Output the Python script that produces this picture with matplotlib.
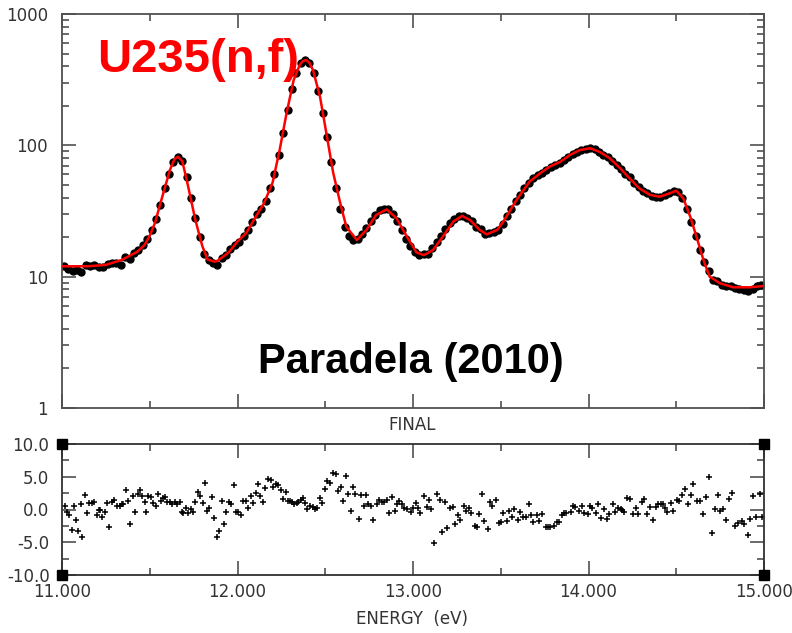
import matplotlib.pyplot as plt
from matplotlib.ticker import LogLocator, NullFormatter
import numpy as np

# fitted cross section (red curve)
fit_e = [11.00, 11.15, 11.25, 11.34, 11.43, 11.47, 11.50, 11.53, 11.57, 11.615,
         11.64, 11.66, 11.685, 11.71, 11.76, 11.80, 11.83, 11.87, 11.89, 11.95,
         12.00, 12.05, 12.10, 12.15, 12.20, 12.24, 12.28, 12.32, 12.355, 12.37,
         12.39, 12.41, 12.43, 12.47, 12.51, 12.545, 12.585, 12.62, 12.68, 12.735,
         12.79, 12.85, 12.905, 12.965, 13.02, 13.06, 13.08, 13.115, 13.17, 13.23,
         13.28, 13.325, 13.38, 13.42, 13.48, 13.515, 13.555, 13.59, 13.63, 13.665,
         13.725, 13.78, 13.84, 13.895, 13.95, 14.01, 14.065, 14.12, 14.18, 14.235,
         14.29, 14.35, 14.405, 14.465, 14.50, 14.54, 14.58, 14.615, 14.655, 14.69,
         14.75, 14.825, 14.92, 15.00]
fit_xs = [12.0, 12.0, 12.3, 13.4, 15.5, 17.4, 20.5, 25.7, 40.0, 65.0,
          78.0, 82.0, 76.0, 55.0, 27.0, 17.0, 13.5, 13.0, 13.3, 15.3,
          18.5, 21.5, 28.0, 36.0, 52.0, 92.0, 177.0, 314.0, 410.0, 435.0,
          447.0, 425.0, 375.0, 235.0, 116.0, 62.0, 36.5, 24.0, 19.0, 22.7,
          29.5, 32.5, 28.0, 20.2, 15.3, 14.6, 15.0, 16.0, 20.2, 26.3,
          29.0, 27.0, 22.7, 21.0, 22.7, 26.3, 32.2, 38.4, 45.7, 53.0,
          61.3, 69.0, 75.0, 84.5, 92.0, 95.0, 89.0, 80.0, 67.0, 56.0,
          47.0, 42.0, 40.6, 43.2, 45.2, 39.5, 28.6, 20.2, 13.4, 10.0,
          8.9, 8.3, 8.3, 8.5]

# measured points (black dots)
data_e = [11.010, 11.035, 11.060, 11.085, 11.110, 11.135, 11.160, 11.185, 11.210, 11.235,
          11.260, 11.285, 11.310, 11.335, 11.360, 11.385, 11.410, 11.435, 11.460, 11.485,
          11.510, 11.535, 11.560, 11.585, 11.610, 11.635, 11.660, 11.685, 11.710, 11.735,
          11.760, 11.785, 11.810, 11.835, 11.860, 11.885, 11.910, 11.935, 11.960, 11.985,
          12.010, 12.035, 12.060, 12.085, 12.110, 12.135, 12.160, 12.185, 12.210, 12.235,
          12.260, 12.285, 12.310, 12.335, 12.360, 12.385, 12.410, 12.435, 12.460, 12.485,
          12.510, 12.535, 12.560, 12.585, 12.610, 12.635, 12.660, 12.685, 12.710, 12.735,
          12.760, 12.785, 12.810, 12.835, 12.860, 12.885, 12.910, 12.935, 12.960, 12.985,
          13.010, 13.035, 13.060, 13.085, 13.110, 13.135, 13.160, 13.185, 13.210, 13.235,
          13.260, 13.285, 13.310, 13.335, 13.360, 13.385, 13.410, 13.435, 13.460, 13.485,
          13.510, 13.535, 13.560, 13.585, 13.610, 13.635, 13.660, 13.685, 13.710, 13.735,
          13.760, 13.785, 13.810, 13.835, 13.860, 13.885, 13.910, 13.935, 13.960, 13.985,
          14.010, 14.035, 14.060, 14.085, 14.110, 14.135, 14.160, 14.185, 14.210, 14.235,
          14.260, 14.285, 14.310, 14.335, 14.360, 14.385, 14.410, 14.435, 14.460, 14.485,
          14.510, 14.535, 14.560, 14.585, 14.610, 14.635, 14.660, 14.685, 14.710, 14.735,
          14.760, 14.785, 14.810, 14.835, 14.860, 14.885, 14.910, 14.935, 14.960, 14.985]
data_xs = [12.0, 11.5, 11.0, 11.2, 10.9, 12.3, 12.0, 12.2, 11.9, 11.8,
           12.4, 12.6, 12.7, 12.3, 14.0, 13.6, 15.2, 16.0, 17.5, 19.5,
           22.5, 27.5, 35.0, 47.0, 60.0, 75.0, 82.0, 76.0, 57.0, 40.0,
           28.0, 20.0, 15.0, 13.3, 12.8, 12.3, 13.8, 14.5, 16.3, 17.5,
           18.5, 20.5, 22.5, 26.0, 30.0, 33.0, 38.0, 47.0, 60.0, 85.0,
           125.0, 185.0, 270.0, 355.0, 425.0, 450.0, 425.0, 355.0, 260.0, 175.0,
           115.0, 75.0, 47.0, 33.0, 24.0, 20.5, 19.0, 19.2, 21.0, 23.5,
           26.5, 29.5, 32.0, 33.0, 32.5, 30.0, 26.5, 22.5, 19.5, 17.0,
           15.5, 14.6, 14.8, 14.9, 16.5, 18.5, 20.5, 23.0, 25.5, 27.5,
           28.8, 29.0, 28.0, 26.5, 24.0, 23.0, 21.0, 21.5, 22.0, 22.5,
           25.0, 29.0, 33.0, 38.0, 42.0, 47.0, 52.0, 56.0, 59.0, 62.0,
           65.0, 68.0, 70.5, 74.0, 78.0, 82.0, 86.0, 89.0, 92.0, 94.0,
           95.0, 93.0, 89.0, 85.0, 81.0, 76.0, 71.0, 66.0, 61.0, 57.0,
           52.0, 48.0, 45.0, 43.0, 41.0, 40.5, 40.5, 41.5, 43.0, 45.0,
           44.5, 40.0, 33.0, 26.0, 20.5, 16.0, 13.0, 11.0, 9.5, 9.2,
           8.6, 8.5, 8.5, 8.2, 8.0, 7.9, 7.8, 8.0, 8.5, 8.6]

# residuals (lower panel)
res_e = [11.017, 11.030, 11.040, 11.055, 11.068, 11.080, 11.093, 11.106, 11.116, 11.129,
         11.141, 11.156, 11.169, 11.184, 11.198, 11.211, 11.217, 11.230, 11.245, 11.258,
         11.270, 11.283, 11.298, 11.315, 11.330, 11.344, 11.349, 11.363, 11.374, 11.388,
         11.403, 11.416, 11.431, 11.444, 11.458, 11.473, 11.479, 11.492, 11.505, 11.520,
         11.534, 11.545, 11.562, 11.574, 11.587, 11.600, 11.615, 11.629, 11.644, 11.657,
         11.672, 11.682, 11.691, 11.706, 11.720, 11.733, 11.746, 11.758, 11.773, 11.786,
         11.801, 11.813, 11.826, 11.840, 11.855, 11.868, 11.881, 11.895, 11.910, 11.923,
         11.936, 11.952, 11.963, 11.978, 11.990, 12.005,
         12.020, 12.033, 12.047, 12.062, 12.075, 12.090, 12.104, 12.115, 12.130, 12.143,
         12.157, 12.176, 12.189, 12.204, 12.217, 12.233, 12.246, 12.261, 12.274, 12.286,
         12.299, 12.312, 12.324, 12.337, 12.347, 12.362, 12.371, 12.385, 12.398, 12.413,
         12.428, 12.442, 12.455, 12.470, 12.483, 12.499, 12.512, 12.527, 12.546, 12.561,
         12.575, 12.588, 12.603, 12.616, 12.632, 12.645, 12.660, 12.670, 12.692, 12.704,
         12.719, 12.732, 12.745, 12.759, 12.774, 12.793, 12.808, 12.821, 12.835, 12.850,
         12.863, 12.878, 12.897, 12.911, 12.922, 12.935, 12.949, 12.964, 12.987, 13.002,
         13.015, 13.028, 13.042, 13.063, 13.078, 13.091, 13.104, 13.118, 13.139, 13.154,
         13.165, 13.180, 13.194, 13.213, 13.226, 13.241, 13.255, 13.268, 13.289, 13.302,
         13.317, 13.330, 13.351, 13.365, 13.378, 13.391, 13.406, 13.425, 13.439, 13.452,
         13.475, 13.488, 13.501, 13.515, 13.536, 13.549, 13.564, 13.577, 13.596, 13.610,
         13.625, 13.644, 13.659, 13.672, 13.686, 13.707, 13.720, 13.735, 13.756, 13.769,
         13.783, 13.803, 13.819, 13.832, 13.851, 13.860, 13.874, 13.898, 13.914, 13.925,
         13.948, 13.961, 13.974, 13.995, 14.009,
         14.022, 14.043, 14.056, 14.069, 14.090, 14.104, 14.119, 14.138, 14.151, 14.170,
         14.183, 14.193, 14.204, 14.221, 14.235, 14.255, 14.269, 14.284, 14.303, 14.316,
         14.332, 14.350, 14.366, 14.385, 14.398, 14.411, 14.423, 14.436, 14.449, 14.470,
         14.483, 14.502, 14.518, 14.531, 14.550, 14.565, 14.582, 14.597, 14.616, 14.635,
         14.654, 14.668, 14.687, 14.702, 14.721, 14.736, 14.749, 14.768, 14.784, 14.802,
         14.816, 14.837, 14.850, 14.873, 14.888, 14.907, 14.920, 14.939, 14.954, 14.977,
         14.987]
res_val = [0.58, -0.33, -0.84, -3.13, 0.58, -1.60, -3.28, 0.79, -4.15, 2.26,
           -0.48, 0.94, 0.94, 1.09, -0.84, -0.08, -0.02, -1.09, -0.33, 0.94,
           -2.62, 1.09, 1.45, 0.58, 0.58, 0.79, 0.79, 2.98, 1.30, -2.26,
           2.06, -0.33, 2.37, 2.98, 2.06, 1.09, -0.33, 2.06, 1.86, 0.94,
           0.58, 2.37, 1.30, 1.71, 1.86, 1.09, 1.20, 0.79, 1.09, 0.79,
           1.09, -0.33, -0.59, 0.18, -0.59, 0.03, -0.43, 1.09, 2.72, 2.06,
           0.94, 4.00, -0.18, 0.18, 1.86, -1.35, -4.15, -3.23, 1.30, -2.26,
           -0.33, 1.09, 0.79, 3.69, -0.43, -0.33,
           -0.84, 1.30, 1.30, 0.18, 2.06, 0.94, 2.47, 3.84, 2.06, 1.09,
           3.28, 4.66, 4.55, 3.49, 3.84, 3.69, 2.93, 1.65, 2.72, 1.35,
           1.35, 1.09, 0.79, 0.94, 1.20, 1.45, 1.71, 1.04, 0.03, 0.58,
           0.43, 0.03, 0.23, 1.71, 1.04, 3.08, 4.40, 4.00, 5.62, 5.42,
           2.88, 3.49, 1.30, 5.11, 2.37, -0.18, 3.49, 2.37, -1.45, 2.21,
           0.58, 2.21, 0.79, 0.58, -1.60, 0.79, 1.45, 1.09, 1.09, 1.45,
           -0.48, 1.86, -0.18, 0.79, 1.35, 0.79, 0.18, 0.03, -0.33, 0.28,
           0.94, 0.18, -0.48, 2.06, 0.43, 1.45, 0.03, -5.17, 2.37, 1.45,
           -3.38, 1.09, -2.87, 0.18, 0.43, -2.26, -0.84, -1.60, 0.58, -0.18,
           0.18, -0.48, -2.47, -2.72, -0.69, 2.37, -1.76, -3.03, 1.09, 0.53,
           1.45, -2.11, -1.96, -0.48, -1.76, -0.18, -1.09, 0.03, -1.60, -0.33,
           -1.09, -1.09, 0.79, -0.84, -1.96, -0.84, -1.76, -0.69, -2.62, -2.62,
           -2.62, -2.52, -1.96, -1.96, -0.84, -0.48, -0.48, -0.33, 0.58, 0.43,
           -0.18, 0.58, -0.48, -0.69, 0.58,
           0.28, -0.48, 0.79, -1.25, 0.03, -1.40, -0.69, 0.79, -0.33, 0.18,
           0.08, -0.08, -0.33, 1.81, 1.60, -0.69, 0.18, -0.69, 1.09, 1.60,
           -0.69, 0.43, -1.60, 0.43, 0.79, 0.79, 0.79, 0.28, -0.33, 0.94,
           -0.18, 1.45, 1.30, 2.21, 3.13, 0.79, 2.21, 3.84, 1.30, 1.30,
           -0.69, 1.86, 4.96, -3.54, 0.03, 2.21, -0.18, 0.03, -1.60, 1.60,
           2.57, -2.52, -2.11, -1.76, -2.26, -3.89, -1.45, 2.06, -1.09, 2.37,
           -1.09]

x_major = [11, 12, 13, 14, 15]
x_minor = [11.5, 12.5, 13.5, 14.5]
x_labels = ['11.000', '12.000', '13.000', '14.000', '15.000']
res_ticks = [-10, -5, 0, 5, 10]
res_labels = ['-10.0', '-5.0', '0.0', '5.0', '10.0']

plt.rcParams['font.family'] = 'DejaVu Sans'
spine_col = '#505050'
text_col = '#333333'

fig = plt.figure(figsize=(7.92, 6.33), dpi=100)
W, H = 792, 633
ax = fig.add_axes([62 / W, 1 - 408 / H, 702 / W, 394 / H])
ax2 = fig.add_axes([62 / W, 1 - 575 / H, 702 / W, 131 / H])

# top panel
ax.plot(data_e, data_xs, 'o', color='black', ms=5.0, zorder=2)
ax.plot(fit_e, fit_xs, '-', color='red', lw=1.8, zorder=3)
ax.set_yscale('log')
ax.set_xlim(11, 15)
ax.set_ylim(1, 1000)
ax.set_yticks([1, 10, 100, 1000])
ax.set_yticklabels(['1', '10', '100', '1000'])
ax.yaxis.set_minor_locator(LogLocator(base=10, subs=np.arange(2, 10)))
ax.yaxis.set_minor_formatter(NullFormatter())
ax.set_xticks(x_major)
ax.set_xticks(x_minor, minor=True)
ax.tick_params(which='both', direction='in', top=True, right=True,
               labelbottom=False, color=spine_col, width=1.2,
               labelcolor=text_col, labelsize=12)
ax.tick_params(which='major', length=10, pad=10)
ax.tick_params(which='minor', length=5)
for s in ax.spines.values():
    s.set_color(spine_col)
    s.set_linewidth(1.3)

# residual panel
ax2.plot(res_e, res_val, '+', color='black', ms=4.0, mew=1.1)
ax2.set_xlim(11, 15)
ax2.set_ylim(-10, 10)
ax2.set_yticks(res_ticks)
ax2.set_yticklabels(res_labels)
ax2.set_yticks([-7.5, -2.5, 2.5, 7.5], minor=True)
ax2.set_xticks(x_major)
ax2.set_xticklabels(x_labels)
ax2.set_xticks(x_minor, minor=True)
ax2.tick_params(which='both', direction='in', top=True, right=True,
                color=spine_col, width=1.2, labelcolor=text_col, labelsize=12)
ax2.tick_params(which='major', length=10)
ax2.tick_params(which='minor', length=5)
ax2.tick_params(axis='y', pad=9)
ax2.tick_params(axis='x', pad=6)
for s in ax2.spines.values():
    s.set_color('#303030')
    s.set_linewidth(1.3)
ax2.plot([11, 11, 15, 15], [10, -10, 10, -10], 's', color='black', ms=7.5,
         clip_on=False, zorder=5)

fig.text(97 / W, 1 - 72 / H, 'U235(n,f)', color='red', fontsize=34,
         fontweight='bold', family='Liberation Sans', va='baseline')
fig.text(258 / W, 1 - 373 / H, 'Paradela (2010)', color='black', fontsize=30,
         fontweight='bold', family='Liberation Sans', va='baseline')
fig.text(412 / W, 1 - 425 / H, 'FINAL', ha='center', va='center',
         fontsize=12, color=text_col)
fig.text(412 / W, 1 - 619 / H, 'ENERGY  (eV)', ha='center', va='center',
         fontsize=12, color=text_col)

fig.savefig('out.png', dpi=100)
